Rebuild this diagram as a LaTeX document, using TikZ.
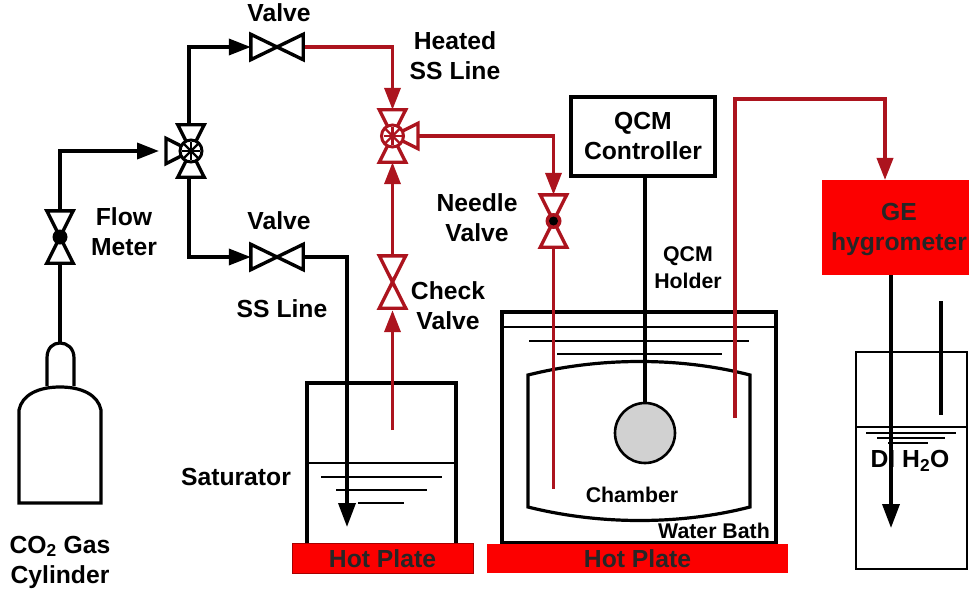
\documentclass[tikz,border=0pt]{standalone}
\usepackage{fontspec}
\setmainfont{Liberation Sans}
\usetikzlibrary{arrows.meta}
\definecolor{heatline}{RGB}{172,20,30}
\definecolor{hotred}{RGB}{252,0,0}
\tikzstyle{valve} = [inner sep=0pt,minimum width=52pt,minimum height=25pt]
\tikzstyle{vvalve} = [inner sep=0pt,minimum width=26pt,minimum height=52pt]
\tikzstyle{port} = [inner sep=0pt,minimum width=0pt,minimum height=25pt]
\tikzstyle{pipe} = [draw,line width=3.6pt]
\tikzstyle{edge} = [draw,line width=3.6pt,-{Triangle[length=22pt,width=16pt]}]
\tikzstyle{bigedge} = [draw,line width=3.6pt,-{Triangle[length=24pt,width=17pt]}]
\tikzstyle{thin line} = [draw,line width=2pt]
\tikzstyle{tag} = [inner sep=0pt,align=center,font=\fontsize{24.7}{30}\selectfont\bfseries]
\tikzstyle{small tag} = [inner sep=0pt,align=center,font=\fontsize{21.3}{27}\selectfont\bfseries]
\tikzstyle{hotplate} = [fill=hotred,inner sep=0pt,text=black!85,font=\fontsize{24.7}{30}\selectfont\bfseries]

\begin{document}
\begin{tikzpicture}[x=1pt,y=-1pt]
	\useasboundingbox (0,0) rectangle (969,591);

	% First we place the valves
	\foreach \pos/\name in {{(277,47)/topvalve}, {(277,257)/lowvalve}}
	\node[valve] (\name) at \pos {};
	\foreach \pos/\name in {{(60,237)/flow}, {(191,151)/gasway}, {(392.5,136)/heatway}, {(392.5,282)/check}, {(553.5,221)/needle}}
	\node[vvalve] (\name) at \pos {};
	\node[port] (gasport) at (166,151) {};
	\node[port] (heatport) at (418,136) {};

	% Then the boxes and the coordinates where pipes turn or stop
	\node[draw,line width=3.6pt,minimum width=144pt,minimum height=79pt,inner sep=0pt] (controller) at (643,136.5) {};
	\node[fill=hotred,minimum width=150pt,minimum height=95pt,inner sep=0pt] (hygro) at (897,227.5) {};
	\node[draw,circle,line width=2.6pt,fill=black!18,minimum size=60pt,inner sep=0pt] (sensor) at (645,433) {};
	\foreach \px/\py/\name in {60/343/necktop, 392.5/430/satend, 347/527/sattip, 553.5/489/chamberin,
							735/418/chamberout, 735/99/roofleft, 885/99/roofright, 885/180/hygroin,
							891/275/hygrobase, 891/528/beakertip, 941/301/ventup, 941/415/ventdown,
							189/126/gasup, 189/176/gasdown, 60/211/flowup}
	\coordinate (\name) at (\px,\py);

	% Cylinder
	\draw[line width=3.2pt,line join=miter] (19,503) -- (101,503) -- (101,410) .. controls (98,395) and (82,387) .. (60,387)
		.. controls (38,387) and (22,395) .. (19,410) -- cycle;
	\draw[line width=3.2pt] (47,386) -- (47,358) .. controls (47,348) and (53,343) .. (necktop)
		.. controls (67,343) and (74,348) .. (74,358) -- (74,386);

	% Saturator
	\draw[line width=3.6pt] (307,543) -- (307,383) -- (456,383) -- (456,543);
	\draw[thin line] (307,463) -- (456,463);
	\foreach \xa/\xb/\yy in {321/442/477, 336/427/490, 358/404/503}
	\draw[thin line] (\xa,\yy) -- (\xb,\yy);

	% Water bath and chamber
	\draw[line width=3.6pt] (502,543) rectangle (776,312);
	\draw[thin line] (502,327) -- (776,327);
	\foreach \xa/\xb/\yy in {529/749/341, 557/722/354}
	\draw[thin line] (\xa,\yy) -- (\xb,\yy);
	\draw[line width=3.2pt] (528,375) .. controls (600,357) and (680,357) .. (750,375) -- (750,507)
		.. controls (680,525) and (600,525) .. (528,507) -- cycle;

	% Beaker
	\draw[thin line] (856,352) rectangle (967,569);
	\draw[thin line] (856,427) -- (967,427);
	\foreach \xa/\xb/\yy in {866/956/433, 877/945/438, 888/928/443}
	\draw[thin line] (\xa,\yy) -- (\xb,\yy);

	% Hot plates
	\node[hotplate,draw=red!65!black,line width=0.8pt,minimum width=181pt,minimum height=30pt] (plateone) at (382.5,558.5) {Hot Plate};
	\node[hotplate,minimum width=301pt,minimum height=29pt] (platetwo) at (637.5,558.5) {Hot Plate};

	% Black pipes
	\path[edge,shorten >=7pt] (flowup) |- (gasport.center);
	\path[pipe] (necktop) -- (flow.south);
	\path[edge] (gasup) |- (topvalve.west);
	\path[edge] (gasdown) |- (lowvalve.west);
	\path[bigedge] (lowvalve.east) -| (sattip);
	\path[pipe] (controller.south -| sensor.north) -- (sensor.north);
	\path[bigedge] (hygrobase) -- (beakertip);
	\path[pipe] (ventup) -- (ventdown);

	% Red pipes
	\path[edge,color=heatline] (topvalve.east) -| (heatway.north);
	\path[edge,color=heatline] (heatport.center) -| (needle.north);
	\path[pipe,color=heatline] (needle.south) -- (chamberin);
	\path[edge,color=heatline] (check.north) -- (heatway.south);
	\path[edge,color=heatline,shorten >=2pt] (satend) -- (check.south);
	\path[edge,color=heatline] (chamberout) -- (roofleft) -- (roofright) -- (hygroin);

	% Now the valve bodies on top of the pipes
	\foreach \name/\col in {topvalve/black, lowvalve/black}
	\draw[line width=3.4pt,color=\col,line join=miter] (\name.north west) -- (\name.south east) -- (\name.north east) -- (\name.south west) -- cycle;
	\foreach \name/\col in {flow/black, gasway/black, heatway/heatline, check/heatline, needle/heatline}
	\draw[line width=3.4pt,color=\col,line join=miter] (\name.north west) -- (\name.north east) -- (\name.south west) -- (\name.south east) -- cycle;
	\draw[line width=3.4pt,line join=miter] (gasway.center) -- (gasport.north) -- (gasport.south) -- cycle;
	\draw[line width=3.4pt,color=heatline,line join=miter] (heatway.center) -- (heatport.north) -- (heatport.south) -- cycle;

	% Three way valves get a crossed circle, the meters a dot
	\foreach \name/\col in {gasway/black, heatway/heatline}
	{
		\draw[line width=3pt,color=\col,fill=white] (\name.center) circle (11pt);
		\draw[line width=2.4pt,color=\col] ([xshift=-7pt,yshift=-7pt]\name.center) -- ([xshift=7pt,yshift=7pt]\name.center);
		\draw[line width=2.4pt,color=\col] ([xshift=-7pt,yshift=7pt]\name.center) -- ([xshift=7pt,yshift=-7pt]\name.center);
		\draw[line width=2.4pt,color=\col] ([xshift=-9pt]\name.center) -- ([xshift=9pt]\name.center);
		\draw[line width=2.4pt,color=\col] ([yshift=-9pt]\name.center) -- ([yshift=9pt]\name.center);
	}
	\fill (flow.center) circle (7.5pt);
	\fill[heatline] (needle.center) circle (8pt);
	\fill (needle.center) circle (4.5pt);

	% Labels
	\foreach \pos/\name/\txt in {{(279,13)/lvalvetop/Valve}, {(279,221)/lvalvelow/Valve}, {(455,56)/lheated/Heated\\SS Line},
								{(124,232)/lflow/Flow\\Meter}, {(282,309)/lssline/SS Line}, {(477,218)/lneedle/Needle\\Valve},
								{(448,306)/lcheck/Check\\Valve}, {(236,477)/lsat/Saturator}, {(643,136)/lcontrol/QCM\\Controller},
								{(60,562)/lcylinder/CO\textsubscript{2} Gas\\Cylinder}, {(910,461)/lwater/DI H\textsubscript{2}O}}
	\node[tag] (\name) at \pos {\txt};
	\foreach \pos/\name/\txt in {{(688,268)/lholder/QCM\\Holder}, {(632,495)/lchamber/Chamber}, {(714,531)/lbath/Water Bath}}
	\node[small tag] (\name) at \pos {\txt};
	\node[tag,text=black!85] (lhygro) at (899,229) {GE\\hygrometer};
\end{tikzpicture}
\end{document}
